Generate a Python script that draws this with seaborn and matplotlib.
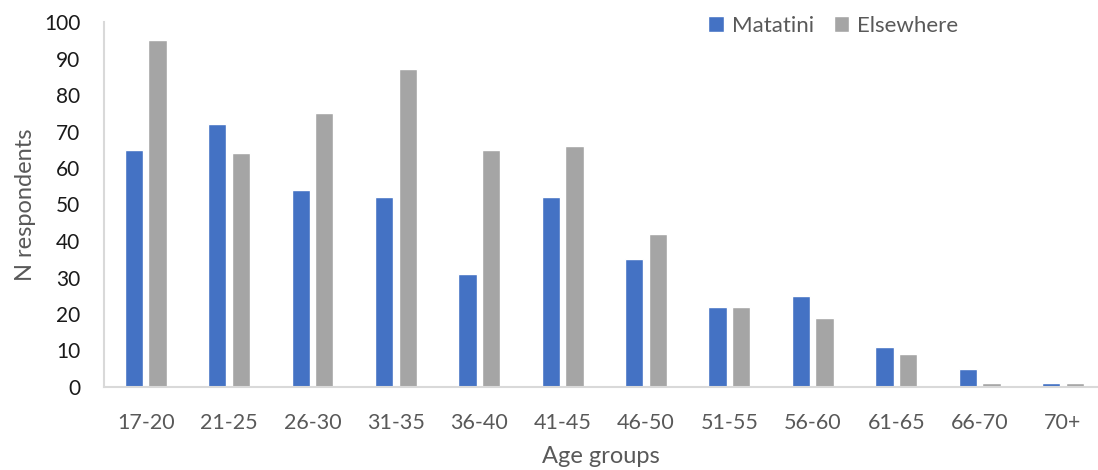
import seaborn as sns
import matplotlib.pyplot as plt
import pandas as pd

age_groups = ['17-20', '21-25', '26-30', '31-35', '36-40', '41-45',
              '46-50', '51-55', '56-60', '61-65', '66-70', '70+']
matatini = [65, 72, 54, 52, 31, 52, 35, 22, 25, 11, 5, 1]
elsewhere = [95, 64, 75, 87, 65, 66, 42, 22, 19, 9, 1, 1]
series = ['Matatini', 'Elsewhere']
colors = ['#4472C4', '#A5A5A5']

df = pd.DataFrame({'age': age_groups * 2,
                   'n': matatini + elsewhere,
                   'where': [series[0]] * len(age_groups) + [series[1]] * len(age_groups)})

sns.set_style('white')
plt.rcParams['font.family'] = ['Lato', 'DejaVu Sans']

fig = plt.figure(figsize=(10.98, 4.70), dpi=100)
ax = fig.add_axes([104 / 1098, (470 - 387) / 470, (1098 - 104) / 1098, (387 - 22) / 470])

sns.barplot(data=df, x='age', y='n', hue='where', palette=colors,
            width=0.566, gap=0.225, saturation=1, ax=ax, legend=True)

ax.set_xlim(-0.5, 11.42)
ax.set_ylim(0, 100)
ax.set_yticks(range(0, 101, 10))
ax.tick_params(axis='y', length=0, pad=17, labelsize=15, labelcolor='#1a1a1a')
ax.tick_params(axis='x', length=0, pad=19, labelsize=15.5, labelcolor='#595959')
ax.set_xlabel('Age groups', fontsize=17, color='#595959', labelpad=9)
ax.set_ylabel('N respondents', fontsize=17, color='#595959', labelpad=6)

for s in ['top', 'right']:
    ax.spines[s].set_visible(False)
for s in ['left', 'bottom']:
    ax.spines[s].set_color('#d9d9d9')
    ax.spines[s].set_linewidth(1.5)

ax.legend(loc='center left', bbox_to_anchor=(0.588, 0.99), ncol=2, frameon=False,
          fontsize=16, handlelength=0.7, handleheight=0.7, handletextpad=0.35,
          columnspacing=0.9, labelcolor='#595959')

fig.savefig('out.png', dpi=100)
